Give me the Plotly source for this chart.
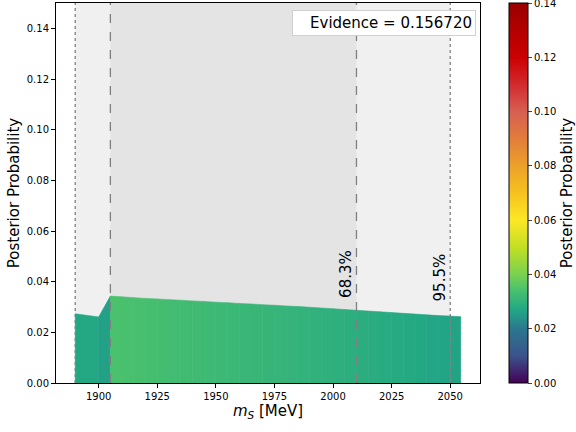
import plotly.graph_objects as go
from plotly.colors import sample_colorscale

# Posterior probability vs scalar mass
mass = [1890, 1900, 1905, 1910, 1915, 1920, 1925, 1930, 1935, 1940, 1945, 1950,
        1955, 1960, 1965, 1970, 1975, 1980, 1985, 1990, 1995, 2000, 2005, 2010,
        2015, 2020, 2025, 2030, 2035, 2040, 2045, 2050, 2054.5]
posterior = [0.0273, 0.0261, 0.0343, 0.0340, 0.0337, 0.0334, 0.0332, 0.0329,
             0.0327, 0.0324, 0.0322, 0.0319, 0.0317, 0.0314, 0.0312, 0.0309,
             0.0307, 0.0304, 0.0302, 0.0299, 0.0296, 0.0293, 0.0290, 0.0287,
             0.0284, 0.0281, 0.0278, 0.0275, 0.0272, 0.0269, 0.0266, 0.0264,
             0.0262]

# credible intervals (low, high)
ci68 = [1905, 2010]
ci95 = [1890, 2050]
ci_labels = ["68.3%", "95.5%"]
ci_label_y = [0.0330, 0.0315]
evidence = 0.156720

cbar_ticks = [0.0, 0.02, 0.04, 0.06, 0.08, 0.10, 0.12, 0.14]
cmin, cmax = 0.0, 0.14
colorscale = [
    [0.000, "#440154"], [0.071, "#3b528b"], [0.143, "#2a788e"],
    [0.193, "#22a785"], [0.245, "#4ac16d"], [0.286, "#7ad151"],
    [0.357, "#c2df23"], [0.429, "#fde725"], [0.500, "#f6c21f"],
    [0.571, "#eca12a"], [0.643, "#e27d3a"], [0.714, "#d75f52"],
    [0.786, "#d22a2e"], [0.857, "#cc0000"], [0.929, "#b30000"],
    [1.000, "#990000"],
]

font = "DejaVu Sans, Liberation Sans, sans-serif"
fig = go.Figure()

# filled area, each interval coloured by its left-hand value
for i in range(len(mass) - 1):
    v = posterior[i]
    col = sample_colorscale(colorscale, [(v - cmin) / (cmax - cmin)])[0]
    x0, x1 = mass[i], mass[i + 1]
    fig.add_trace(go.Scatter(
        x=[x0, x0, x1, x1, x0], y=[0, posterior[i], posterior[i + 1], 0, 0],
        mode="lines", fill="toself", fillcolor=col,
        line=dict(width=0.6, color=col), hoverinfo="skip", showlegend=False))

# colour bar
fig.add_trace(go.Scatter(
    x=[None], y=[None], mode="markers", showlegend=False,
    marker=dict(color=[cmin], cmin=cmin, cmax=cmax, colorscale=colorscale,
                showscale=True,
                colorbar=dict(
                    x=1.068, xanchor="left", y=0.5, yanchor="middle",
                    len=380, lenmode="pixels", thickness=19,
                    xpad=0, ypad=0,
                    outlinewidth=1, outlinecolor="black",
                    tickmode="array", tickvals=cbar_ticks,
                    ticktext=[f"{t:.2f}" for t in cbar_ticks],
                    ticklabeloverflow="allow",
                    ticks="outside", ticklen=4,
                    tickfont=dict(size=10, color="black", family=font),
                    title=dict(text="Posterior Probability", side="right",
                               font=dict(size=15, color="black", family=font))))))

shapes = [
    dict(type="rect", xref="x", yref="paper", x0=ci95[0], x1=ci95[1], y0=0, y1=1,
         fillcolor="#f0f0f0", line=dict(width=0), layer="below"),
    dict(type="rect", xref="x", yref="paper", x0=ci68[0], x1=ci68[1], y0=0, y1=1,
         fillcolor="#e4e4e4", line=dict(width=0), layer="below"),
]
for xv in ci95:
    shapes.append(dict(type="line", xref="x", yref="paper", x0=xv, x1=xv, y0=0, y1=1,
                       line=dict(color="#808080", width=1.3, dash="dot"), layer="above"))
for xv in ci68:
    shapes.append(dict(type="line", xref="x", yref="paper", x0=xv, x1=xv, y0=0, y1=1,
                       line=dict(color="#808080", width=1.3, dash="dash"), layer="above"))

annotations = [
    dict(x=ci68[1], y=ci_label_y[0], xref="x", yref="y", text=ci_labels[0], textangle=-90,
         showarrow=False, xanchor="right", yanchor="bottom", xshift=1,
         font=dict(size=15, color="black", family=font)),
    dict(x=ci95[1], y=ci_label_y[1], xref="x", yref="y", text=ci_labels[1], textangle=-90,
         showarrow=False, xanchor="right", yanchor="bottom", xshift=1,
         font=dict(size=15, color="black", family=font)),
    dict(x=0.99, y=0.982, xref="paper", yref="paper", xanchor="right", yanchor="top",
         text=f"Evidence = {evidence:.6f}", showarrow=False, width=176, align="right",
         bgcolor="white", bordercolor="#d0d0d0", borderwidth=1, borderpad=3,
         font=dict(size=15, color="black", family=font)),
]

fig.update_layout(
    width=576, height=432,
    margin=dict(l=56, r=96, t=3, b=49, autoexpand=False),
    plot_bgcolor="white", paper_bgcolor="white",
    font=dict(family=font, color="black"),
    shapes=shapes, annotations=annotations,
    xaxis=dict(range=[1881.8, 2062.7], tickvals=[1900, 1925, 1950, 1975, 2000, 2025, 2050],
               ticks="outside", ticklen=4, tickcolor="black",
               showline=True, linecolor="black", linewidth=1, mirror=True,
               showgrid=False, zeroline=False,
               tickfont=dict(size=10, family=font),
               title=dict(text="<i>m</i><sub><i>S</i></sub> [MeV]", standoff=4,
                          font=dict(size=15, family=font))),
    yaxis=dict(range=[0, 0.15], tickvals=[0, 0.02, 0.04, 0.06, 0.08, 0.1, 0.12, 0.14],
               tickformat=".2f", ticks="outside", ticklen=4, tickcolor="black",
               showline=True, linecolor="black", linewidth=1, mirror=True,
               showgrid=False, zeroline=False,
               tickfont=dict(size=10, family=font),
               title=dict(text="Posterior Probability", standoff=3,
                          font=dict(size=15, family=font))),
)

fig.write_html("out.html")
